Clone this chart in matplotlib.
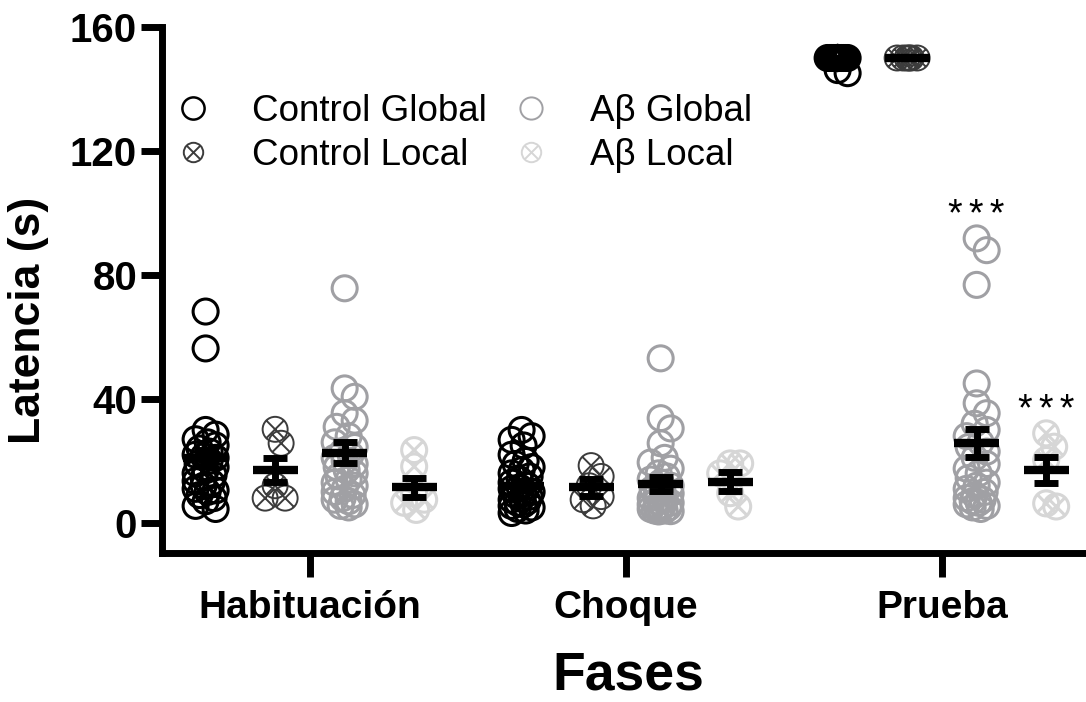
import numpy as np
import matplotlib
matplotlib.use("Agg")
import matplotlib.pyplot as plt
from matplotlib.path import Path
from matplotlib.lines import Line2D

plt.rcParams['font.family'] = ['Liberation Sans', 'DejaVu Sans']

phases = ['Habituación', 'Choque', 'Prueba']
groups = ['Control Global', 'Control Local', 'Aβ Global', 'Aβ Local']

# latency values (s) per phase
control_global = [
    [68.2, 56.3, 30, 28.5, 27, 26, 25, 24, 23, 22, 21.5, 21, 20, 19, 18, 17,
     16, 15.5, 14.5, 13.5, 13, 12, 11, 10.5, 10, 9, 8, 7, 5.5, 4.5],
    [30, 28, 26.8, 25, 22, 20, 19, 18, 17, 16, 15, 14, 13, 12, 11.5, 11,
     10, 9.5, 9, 8.5, 8, 7.5, 7, 6.5, 6, 5.5, 5, 4.5, 4, 3.2],
    [150] * 28 + [146.1, 145.1],
]
control_local = [
    [30.2, 25.7, 12, 8, 8],
    [18.5, 15, 12, 8.5, 7.5, 5.5],
    [150] * 6,
]
abeta_global = [
    [75.7, 43.4, 40.7, 35.4, 33, 31, 28, 26, 24.5, 23, 22, 21, 20, 19, 18,
     17, 16, 15, 14, 13, 12, 11, 10, 9, 8, 7.5, 7, 6, 5.5, 5],
    [53.1, 33.8, 30.5, 25.7, 21, 19.5, 17.5, 16, 15, 14, 13, 12, 11, 10, 9.5,
     9, 8, 7.5, 7, 6.5, 6, 5.5, 5, 5, 4.5, 4.5, 4, 4, 3.8, 3.7],
    [91.8, 88, 76.8, 45, 38.6, 35.4, 32, 30, 28, 26, 24.5, 23, 21, 19, 17.5,
     16, 14.5, 13, 12, 11, 10, 9, 8, 7.5, 7, 6.5, 6, 5.5, 5, 4.5],
]
abeta_local = [
    [23.5, 18.2, 9.5, 7.5, 6.5, 4.2],
    [19.2, 19.2, 16, 9.6, 5.3],
    [28.9, 24.6, 20.3, 6.3, 5.3],
]

# mean and SEM per phase
mean_cg = [20.9, 12.0, 149.7]
sem_cg = [2.5, 1.5, 0.3]
mean_cl = [17.1, 11.5, 150]
sem_cl = [4.0, 2.7, 0]
mean_ag = [22.7, 12.6, 25.7]
sem_ag = [3.3, 2.3, 4.5]
mean_al = [11.5, 13.3, 17.1]
sem_al = [3.0, 3.0, 4.3]

# significance marks (group index, phase index)
stars = [(2, 2), (3, 2)]

all_data = [control_global, control_local, abeta_global, abeta_local]
all_means = [mean_cg, mean_cl, mean_ag, mean_al]
all_sems = [sem_cg, sem_cl, sem_ag, sem_al]
offsets = [-0.33, -0.11, 0.11, 0.33]
colors = ['black', '#3c3c3c', '#a0a0a4', '#d6d6d6']
edge_w = [2.2, 1.4, 2.2, 2.2]

# circle with a cross inside
a = np.sqrt(0.5)
cross = Path([(-a, -a), (a, a), (-a, a), (a, -a)],
             [Path.MOVETO, Path.LINETO, Path.MOVETO, Path.LINETO])
otimes = Path.make_compound_path(Path.unit_circle(), cross)
markers = ['o', otimes, 'o', otimes]

fig = plt.figure(figsize=(10.86, 7.02), dpi=100)
ax = fig.add_axes([162 / 1086, 1 - 553 / 702, (1086 - 162) / 1086, (553 - 27) / 702])
ax.set_xlim(-0.468, 2.456)
ax.set_ylim(-9.7, 160)


def swarm(vals, px_x, px_y, step=2.0, max_px=10.0, min_d=15.0):
    cands = [0.0]
    k = step
    while k <= max_px + 1e-9:
        cands += [k, -k]
        k += step
    placed = []
    out = []
    for v in vals:
        y = v * px_y
        best, best_d = cands[0], -1
        for c in cands:
            d = min([np.hypot(c - px, y - py) for px, py in placed] or [1e9])
            if d >= min_d:
                best = c
                break
            if d > best_d:
                best, best_d = c, d
        placed.append((best, y))
        out.append(best / px_x)
    return np.array(out)


p0 = ax.transData.transform((0, 0))
p1 = ax.transData.transform((1, 1))
px_x, px_y = p1[0] - p0[0], p1[1] - p0[1]

for g in range(4):
    for p in range(3):
        vals = np.array(all_data[g][p], dtype=float)
        xs = p + offsets[g] + swarm(vals, px_x, px_y)
        ax.scatter(xs, vals, s=18 ** 2, marker=markers[g], facecolors='none',
                   edgecolors=colors[g], linewidths=edge_w[g], zorder=2 + g,
                   clip_on=False)

for g in range(4):
    xs = np.arange(3) + offsets[g]
    ax.errorbar(xs, all_means[g], yerr=all_sems[g], fmt='none', ecolor='black',
                elinewidth=5, capsize=8.3, capthick=5, zorder=10)
    ax.hlines(all_means[g], xs - 0.071, xs + 0.071, colors='black', lw=6, zorder=11)

for g, p in stars:
    ax.text(p + offsets[g], max(all_data[g][p]) + 4.0, '*\u2006*\u2006*', ha='center',
            va='baseline', fontsize=27)

for s in ['top', 'right']:
    ax.spines[s].set_visible(False)
for s in ['left', 'bottom']:
    ax.spines[s].set_linewidth(5)
    ax.spines[s].set_capstyle('projecting')

ax.set_yticks([0, 40, 80, 120, 160])
ax.set_xticks(range(3))
ax.set_xticklabels(phases)
ax.tick_params(axis='y', length=15, width=5, pad=3, labelsize=29)
ax.tick_params(axis='x', length=17, width=5, pad=10, labelsize=28)
for lab in ax.get_xticklabels() + ax.get_yticklabels():
    lab.set_fontweight('bold')

ax.set_ylabel('Latencia (s)', fontsize=32, fontweight='bold')
ax.yaxis.set_label_coords(-0.144, 0.443)
ax.yaxis.label.set_va('center')
ax.set_xlabel('Fases', fontsize=38.5, fontweight='bold')
ax.xaxis.set_label_coords(0.505, -0.232)
ax.xaxis.label.set_va('center')

handles = []
for g in range(4):
    ms = 16 if markers[g] == 'o' else 14
    handles.append(Line2D([], [], ls='none', marker=markers[g], ms=ms, mfc='none',
                          mec=colors[g], mew=1.4 if g != 0 else 1.8))
ax.legend(handles, groups, ncol=2, loc='upper left', bbox_to_anchor=(0.161, 0.866),
          bbox_transform=fig.transFigure, frameon=False, fontsize=26.5,
          handlelength=1.0, handletextpad=1.1, columnspacing=0.7,
          labelspacing=0.24, borderpad=0, borderaxespad=0)

fig.savefig('out.png', dpi=100)
